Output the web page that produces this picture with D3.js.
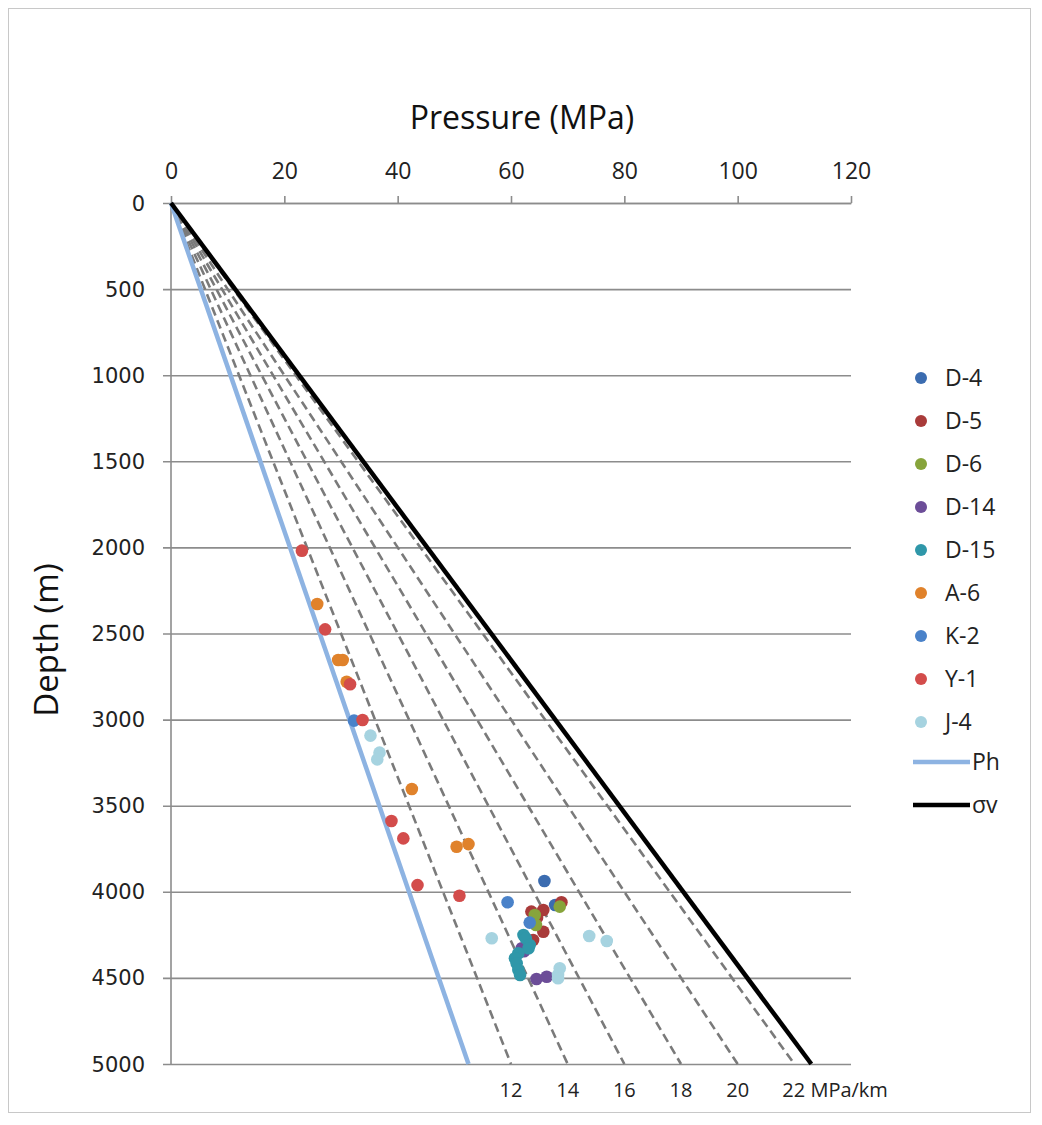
<!doctype html>
<html lang="en">
<head>
  <meta charset="utf-8">
  <title>Pressure vs depth</title>
  <script src="https://cdn.jsdelivr.net/npm/d3@7"></script>
  <style>
    body { margin: 0; background: #fff; }
    svg { display: block; font-family: "Open Sans", sans-serif; }
  </style>
</head>
<body>
<svg width="1042" height="1125"></svg>
<script>
// pressure (MPa), depth (m) per well
var D4  = [[65.9,3937],[67.8,4077]];
var D5  = [[68.9,4061],[63.6,4115],[65.7,4106],[64.6,4150],[65.7,4232],[63.9,4280]];
var D6  = [[68.6,4086],[64.2,4135],[64.4,4193]];
var D14 = [[61.9,4328],[62.3,4345],[64.5,4506],[66.3,4493]];
var D15 = [[62.2,4251],[62.6,4270],[63.3,4309],[63.1,4328],[61.3,4357],[60.7,4386],[61.0,4415],[61.3,4454],[61.6,4483]];
var A6  = [[25.8,2329],[29.5,2654],[30.3,2654],[31.0,2780],[42.5,3403],[50.4,3738],[52.5,3723]];
var K2  = [[32.3,3006],[59.4,4061],[63.3,4179]];
var Y1  = [[23.1,2019],[27.2,2476],[31.6,2795],[33.8,3002],[38.9,3589],[41.0,3690],[43.5,3961],[50.9,4023]];
var J4  = [[35.2,3093],[36.8,3192],[36.4,3231],[56.6,4270],[73.8,4257],[76.9,4286],[68.6,4444],[68.3,4483],[68.3,4502]];

var seriesNames  = ["D-4","D-5","D-6","D-14","D-15","A-6","K-2","Y-1","J-4"];
var seriesData   = [D4, D5, D6, D14, D15, A6, K2, Y1, J4];
var seriesColors = ["#3b6cb0","#a93b3a","#87a43b","#6c4d98","#2f97a9","#e0822b","#4a82c9","#d34c4b","#a6d3e0"];

var gradients = [12,14,16,18,20,22];   // MPa/km dashed guides
var phGrad = 10.5, svGrad = 22.6;      // hydrostatic and vertical stress
var xTicks = [0,20,40,60,80,100,120];
var yTicks = [0,500,1000,1500,2000,2500,3000,3500,4000,4500,5000];

var svg = d3.select("svg");
var pL = 171, pR = 851, pT = 203, pB = 1064;
var x = d3.scaleLinear().domain([0,120]).range([pL,pR]);
var y = d3.scaleLinear().domain([0,5000]).range([pT,pB]);

// frame
svg.append("rect").attr("x",8.5).attr("y",8.5).attr("width",1022).attr("height",1104)
  .attr("fill","none").attr("stroke","#c8c8c8");

// grid lines (horizontal) + left axis ticks
svg.append("g").attr("transform",`translate(${pL},0)`)
  .call(d3.axisLeft(y).tickValues(yTicks).tickSize(-(pR-pL)).tickFormat(""))
  .call(g => g.select(".domain").remove())
  .call(g => g.selectAll("line").attr("x1",-8).attr("stroke","#8c8c8c").attr("stroke-width",1.6));
svg.append("line").attr("x1",pL).attr("x2",pL).attr("y1",pT).attr("y2",pB)
  .attr("stroke","#8c8c8c").attr("stroke-width",1.6);

// y labels
svg.append("g").selectAll("text").data(yTicks).enter().append("text")
  .attr("x",145).attr("y",d => y(d)+7.5).attr("text-anchor","end")
  .style("font-family","'DejaVu Sans', Verdana, sans-serif").style("font-size","21px").attr("fill","#222")
  .text(d => d);

// top axis
var xAxis = svg.append("g").attr("transform",`translate(0,${pT})`)
  .call(d3.axisTop(x).tickValues(xTicks).tickSize(7).tickSizeOuter(0));
xAxis.select(".domain").attr("stroke","#8c8c8c").attr("stroke-width",1.6);
xAxis.selectAll("line").attr("stroke","#8c8c8c").attr("stroke-width",1.6);
xAxis.selectAll("text").attr("y",-24).style("font-size","23px").style("font-family","'Open Sans', sans-serif").attr("fill","#222");

svg.append("text").attr("x",522).attr("y",129).attr("text-anchor","middle")
  .style("font-size","32px").attr("fill","#111").text("Pressure (MPa)");
svg.append("text").attr("transform","translate(58,640) rotate(-90)").attr("text-anchor","middle")
  .style("font-size","33px").attr("fill","#111").text("Depth (m)");

// gradient guide lines
var line = d3.line().x(d => x(d[0])).y(d => y(d[1]));
svg.append("g").selectAll("path").data(gradients).enter().append("path")
  .attr("d", g => line([[0,0],[g*5,5000]]))
  .attr("fill","none").attr("stroke","#7a7a7a").attr("stroke-width",2.6).attr("stroke-dasharray","9,5");
svg.append("path").attr("d", line([[0,0],[phGrad*5,5000]]))
  .attr("fill","none").attr("stroke","#8db3e2").attr("stroke-width",4.5);
svg.append("path").attr("d", line([[0,0],[svGrad*5,5000]]))
  .attr("fill","none").attr("stroke","#000").attr("stroke-width",4.5);

// gradient labels at bottom
svg.append("g").selectAll("text").data(gradients).enter().append("text")
  .attr("x", g => g === 22 ? x(g*5)-12 : x(g*5))
  .attr("y",1097).attr("text-anchor", g => g === 22 ? "start" : "middle")
  .style("font-size","20px").attr("fill","#222")
  .text(g => g === 22 ? "22 MPa/km" : g);

// points
seriesData.forEach((pts,i) => {
  svg.append("g").selectAll("circle").data(pts).enter().append("circle")
    .attr("cx", d => x(d[0])).attr("cy", d => y(d[1])).attr("r",6.3)
    .attr("fill", seriesColors[i]);
});

// legend
var lg = svg.append("g");
seriesNames.forEach((n,i) => {
  var ly = 378 + i*43;
  lg.append("circle").attr("cx",921).attr("cy",ly).attr("r",6).attr("fill",seriesColors[i]);
  lg.append("text").attr("x",945).attr("y",ly+8).style("font-size","23px").attr("fill","#222").text(n);
});
[["Ph","#8db3e2",762],["σv","#000",805]].forEach(d => {
  lg.append("line").attr("x1",913).attr("x2",970).attr("y1",d[2]).attr("y2",d[2])
    .attr("stroke",d[1]).attr("stroke-width",4.5);
  lg.append("text").attr("x",972).attr("y",d[2]+8).style("font-size","23px").attr("fill","#222").text(d[0]);
});
</script>
</body>
</html>
